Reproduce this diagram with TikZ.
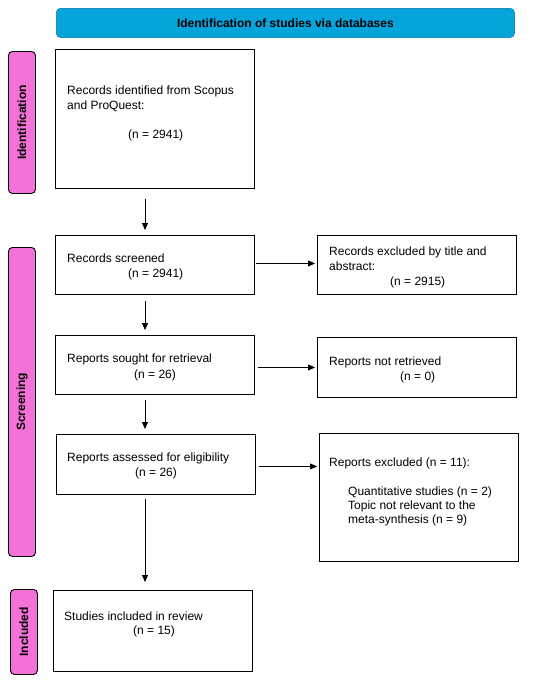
\documentclass[tikz,border=0pt]{standalone}
\usepackage{fontspec}
\setmainfont{Liberation Sans}
\usetikzlibrary{arrows.meta}
\definecolor{hdrcyan}{HTML}{05A5DC}
\definecolor{hdredge}{HTML}{1A8FC0}
\definecolor{sidepink}{HTML}{F472D8}
\tikzset{
  box/.style={draw=black, line width=0.9pt, fill=white, anchor=north west, inner sep=0pt},
  side/.style={draw=black, line width=0.9pt, fill=sidepink, rounded corners=4pt, anchor=north west, inner sep=0pt},
  sidelbl/.style={rotate=90, font=\fontsize{12}{14}\selectfont\bfseries},
  txt/.style={anchor=base west, inner sep=0pt, font=\fontsize{12}{14}\selectfont},
  arr/.style={draw=black, line width=0.8pt, -{Triangle[length=7pt,width=6pt]}},
}
\begin{document}
\begin{tikzpicture}[x=1pt,y=-1pt]
\useasboundingbox (0,0) rectangle (550,681);
% header
\node[draw=hdredge, line width=0.8pt, fill=hdrcyan, rounded corners=4pt, anchor=north west, inner sep=0pt,
  minimum width=458pt, minimum height=29pt] (hdr) at (56,8) {};
\node[font=\fontsize{12}{14}\selectfont\bfseries] (hdrt) at (hdr.center) {Identification of studies via databases};
% side boxes
\node[side, minimum width=27pt, minimum height=142pt] (sid) at (8,51) {};
\node[sidelbl] (sidt) at (sid.center) {Identification};
\node[side, minimum width=27pt, minimum height=309pt] (ssc) at (8,247) {};
\node[sidelbl] (ssct) at (ssc.center) {Screening};
\node[side, minimum width=27pt, minimum height=85pt] (sin) at (10,589) {};
\node[sidelbl] (sint) at (sin.center) {Included};
% main boxes
\node[box, minimum width=199pt, minimum height=139pt] (b1) at (55,49) {};
\node[txt] (b1a) at (67,94) {Records identified from Scopus};
\node[txt] (b1b) at (67,109) {and ProQuest:};
\node[txt] (b1c) at (128,138) {(n = 2941)};

\node[box, minimum width=199pt, minimum height=59pt] (b2) at (55,235) {};
\node[txt] (b2a) at (67,262) {Records screened};
\node[txt] (b2b) at (128,277) {(n = 2941)};

\node[box, minimum width=199pt, minimum height=59pt] (e1) at (317,235) {};
\node[txt] (e1a) at (329,255) {Records excluded by title and};
\node[txt] (e1b) at (329,270) {abstract:};
\node[txt] (e1c) at (390,285) {(n = 2915)};

\node[box, minimum width=199pt, minimum height=59pt] (b3) at (55,335) {};
\node[txt] (b3a) at (67,362) {Reports sought for retrieval};
\node[txt] (b3b) at (134,378) {(n = 26)};

\node[box, minimum width=199pt, minimum height=60pt] (e2) at (317,337) {};
\node[txt] (e2a) at (329,365) {Reports not retrieved};
\node[txt] (e2b) at (400,380) {(n = 0)};

\node[box, minimum width=199pt, minimum height=60pt] (b4) at (56,434) {};
\node[txt] (b4a) at (67,461) {Reports assessed for eligibility};
\node[txt] (b4b) at (135,476) {(n = 26)};

\node[box, minimum width=199pt, minimum height=128pt] (e3) at (319,433) {};
\node[txt] (e3a) at (329,466) {Reports excluded (n = 11):};
\node[txt] (e3b) at (348,495) {Quantitative studies (n = 2)};
\node[txt] (e3c) at (348,509) {Topic not relevant to the};
\node[txt] (e3d) at (348,523) {meta-synthesis (n = 9)};

\node[box, minimum width=199pt, minimum height=81pt] (b5) at (53,590) {};
\node[txt] (b5a) at (64,620) {Studies included in review};
\node[txt] (b5b) at (133,634) {(n = 15)};
% vertical arrows
\draw[arr, shorten >=5pt] ([xshift=90pt,yshift=-10pt]b1.south west) -- ([xshift=90pt]b2.north west);
\draw[arr, shorten >=5pt] ([xshift=90pt,yshift=-6pt]b2.south west) -- ([xshift=90pt]b3.north west);
\draw[arr, shorten >=5pt] ([xshift=90pt,yshift=-5pt]b3.south west) -- ([xshift=89pt]b4.north west);
\draw[arr, shorten >=8pt] ([xshift=89pt,yshift=-4pt]b4.south west) -- ([xshift=92pt]b5.north west);
% horizontal arrows
\draw[arr, shorten <=1pt, shorten >=2pt] ([yshift=1.5pt]b2.east) -- ([yshift=1.5pt]b2.east -| e1.west);
\draw[arr, shorten <=3pt, shorten >=2pt] (e2.west -| b3.east) -- (e2.west);
\draw[arr, shorten <=3pt, shorten >=2pt] ([yshift=-2pt]b4.east) -- ([yshift=-2pt]b4.east -| e3.west);
\end{tikzpicture}
\end{document}
